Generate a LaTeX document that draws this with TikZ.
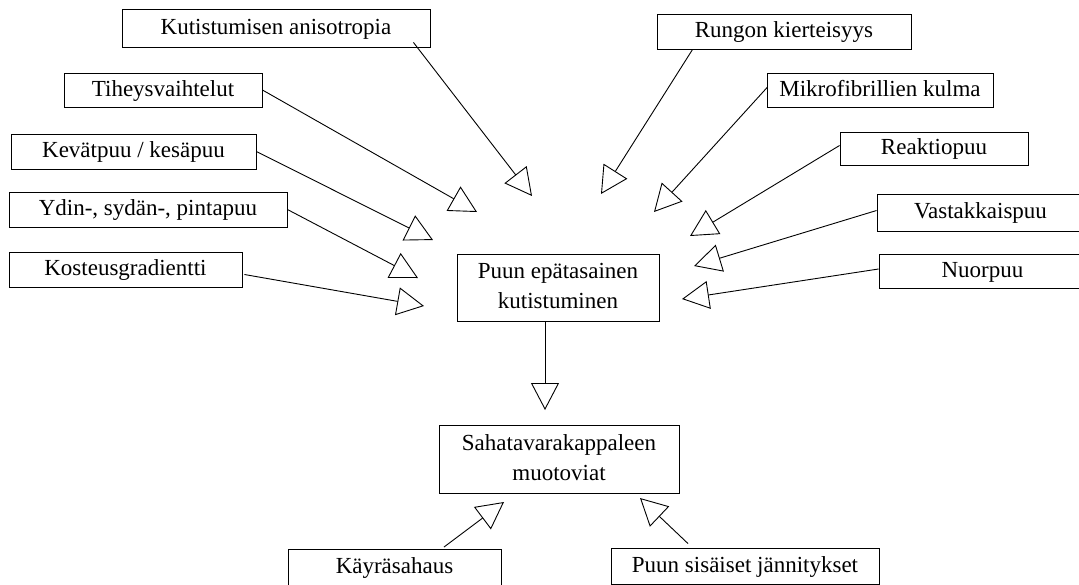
\documentclass[tikz,border=0pt]{standalone}
\usepackage{fontspec}
\setmainfont{Liberation Serif}
\usetikzlibrary{arrows.meta,calc}
\tikzset{
  box/.style={draw, line width=0.9pt, inner sep=0pt, align=center,
    font=\fontsize{23}{30}\selectfont},
  arr/.style={line width=0.9pt, -{Triangle[open, length=27pt, width=28pt]}}
}
\begin{document}
\begin{tikzpicture}[x=1pt,y=-1pt]
\useasboundingbox (0,0) rectangle (1079,584);
\clip (0,0) rectangle (1079,584);
\fill[white] (0,0) rectangle (1079,584);

% left column
\node[box, minimum width=308pt, minimum height=38pt] (aniso) at (276,28) {\strut Kutistumisen anisotropia};
\node[box, minimum width=198pt, minimum height=34pt] (tihey) at (163,90) {\strut Tiheysvaihtelut};
\node[box, minimum width=245pt, minimum height=35pt] (kevat) at (133.5,151.5) {\strut Kevätpuu / kesäpuu};
\node[box, minimum width=278pt, minimum height=35pt] (ydin) at (148,209.5) {\strut Ydin-, sydän-, pintapuu};
\node[box, minimum width=233pt, minimum height=35pt] (kost) at (125.5,269.5) {\strut Kosteusgradientti};

% right column
\node[box, minimum width=254pt, minimum height=35pt] (rungon) at (784,31.5) {\strut Rungon kierteisyys};
\node[box, minimum width=226pt, minimum height=34pt] (mikro) at (880,90) {\strut Mikrofibrillien kulma};
\node[box, minimum width=188pt, minimum height=33pt] (reakt) at (934,148.5) {\strut Reaktiopuu};
\node[box, minimum width=207pt, minimum height=37pt] (vasta) at (980.5,212.5) {\strut Vastakkaispuu};
\node[box, minimum width=207pt, minimum height=34pt] (nuor) at (982.5,271) {\strut Nuorpuu};

% centre
\node[box, minimum width=202pt, minimum height=67pt] (center) at (558,287.5) {\strut Puun epätasainen\\ kutistuminen\strut};
\node[box, minimum width=240pt, minimum height=68pt] (saha) at (559,459) {\strut Sahatavarakappaleen\\ muotoviat\strut};

% bottom
\node[box, minimum width=213pt, minimum height=36pt] (kayra) at (394.5,567) {\strut Käyräsahaus};
\node[box, minimum width=268pt, minimum height=36pt] (sisa) at (745,566) {\strut Puun sisäiset jännitykset};

% arrow tips
\coordinate (tA) at (532,196);
\coordinate (tB) at (477,212);
\coordinate (tC) at (433,240);
\coordinate (tD) at (418,278);
\coordinate (tE) at (424,306);
\coordinate (tF) at (601,194);
\coordinate (tG) at (654,212);
\coordinate (tH) at (690,236);
\coordinate (tI) at (694,266);
\coordinate (tJ) at (682,299);
\coordinate (tK) at (545,410);
\coordinate (tL) at (504,502);
\coordinate (tM) at (640,498);

\draw[arr] ($(aniso.south east)+(-17,-5)$) -- (tA);
\draw[arr] (tihey.east) -- (tB);
\draw[arr] (kevat.east) -- (tC);
\draw[arr] (ydin.east) -- (tD);
\draw[arr] ($(kost.east)+(2,5)$) -- (tE);
\draw[arr] ($(rungon.south west)+(36,0)$) -- (tF);
\draw[arr] ($(mikro.west)+(1,-3)$) -- (tG);
\draw[arr] ($(reakt.west)+(0,-3)$) -- (tH);
\draw[arr] ($(vasta.west)+(0,-2)$) -- (tI);
\draw[arr] ($(nuor.west)+(0,-2)$) -- (tJ);
\draw[arr] ($(center.south)+(-13,0)$) -- (tK);
\draw[arr] ($(kayra.north)+(49.5,-1.5)$) -- (tL);
\draw[arr] ($(sisa.north)+(-57,-4)$) -- (tM);
\end{tikzpicture}
\end{document}
